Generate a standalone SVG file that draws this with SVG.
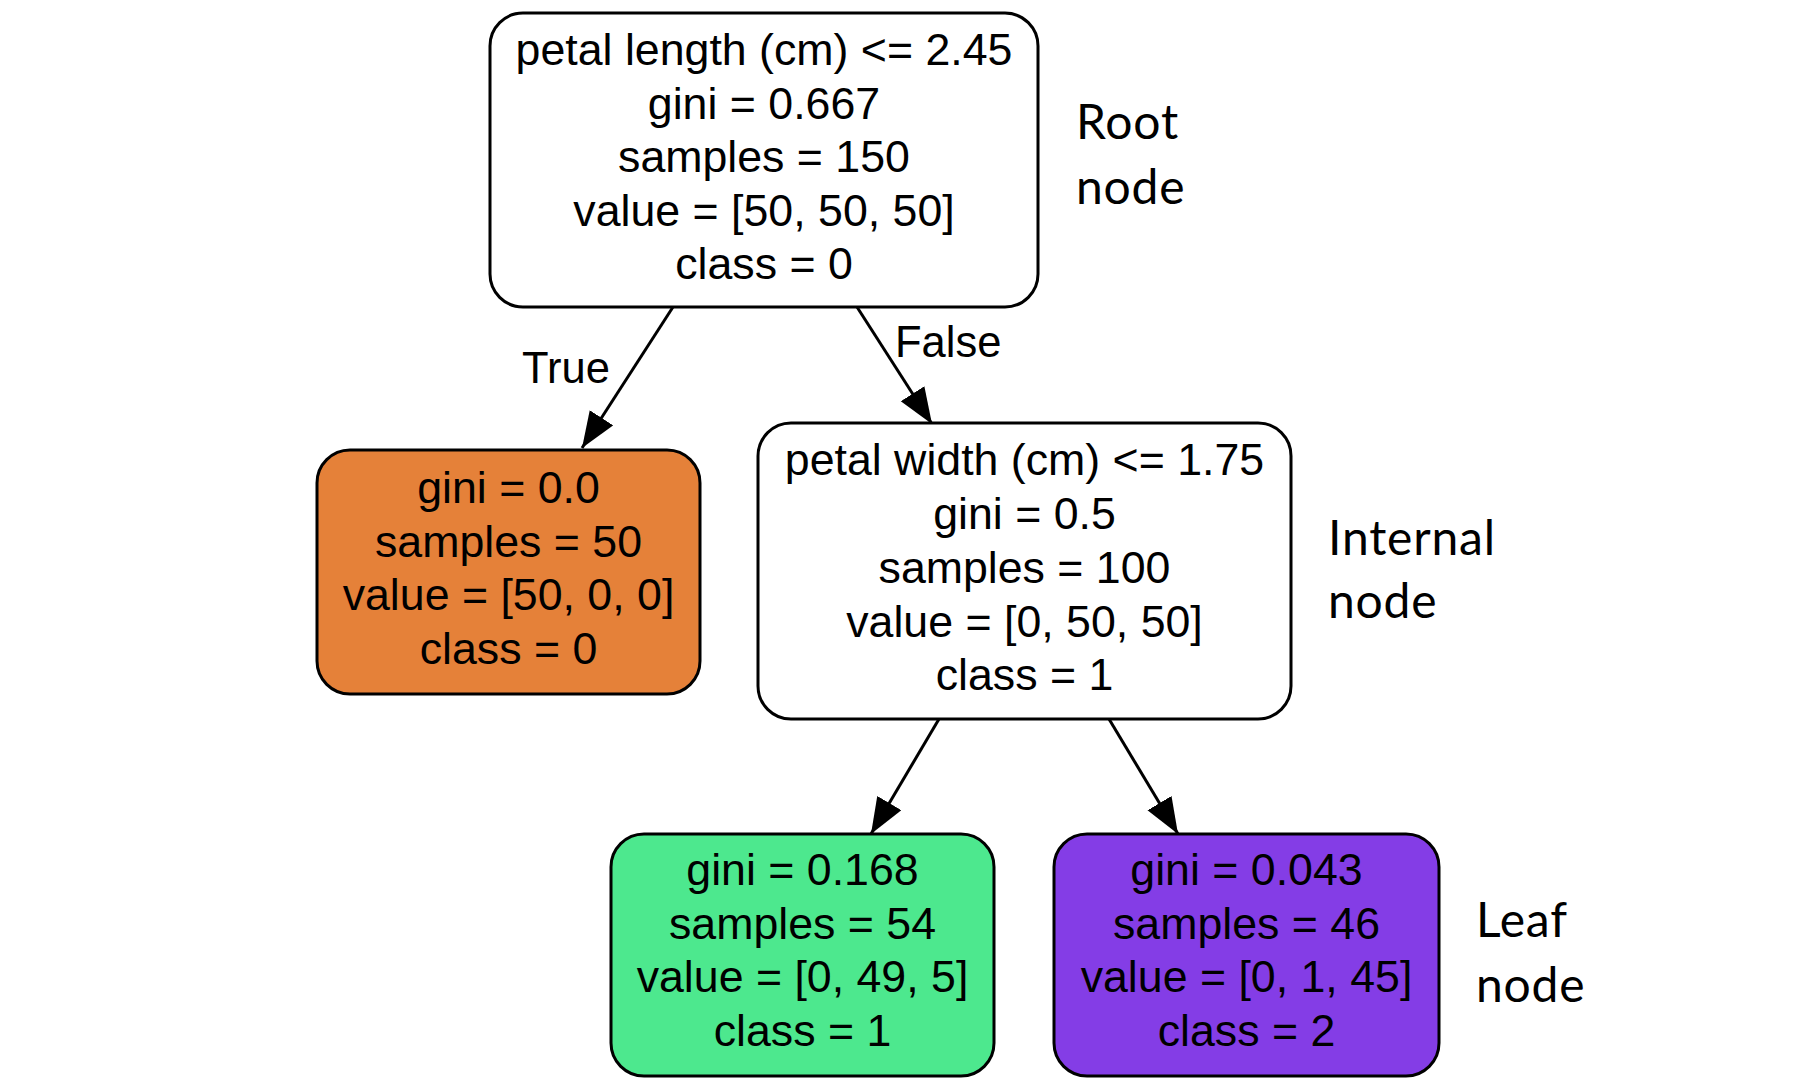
<svg xmlns="http://www.w3.org/2000/svg" width="1795" height="1085" viewBox="0 0 1795 1085">
<defs>
<style>
.box{stroke:#000;stroke-width:3}
.t{font-family:"Liberation Sans",Arial,sans-serif;font-size:44.7px;fill:#000;text-anchor:middle}
.el{font-family:"Liberation Sans",Arial,sans-serif;font-size:43.5px;fill:#000}
.ann{font-family:Lato,"Open Sans",sans-serif;font-size:48px;letter-spacing:0.8px;fill:#000}
.edge{stroke:#000;stroke-width:3;fill:none}
</style>
<marker id="arr" markerUnits="userSpaceOnUse" markerWidth="40" markerHeight="32" refX="36" refY="14" orient="auto">
<path d="M0,0 L36,14 L0,28 z" fill="#000"/>
</marker>
</defs>
<rect width="1795" height="1085" fill="#fff"/>
<g id="connectors">
<line class="edge" x1="673" y1="307" x2="582" y2="448" marker-end="url(#arr)"/>
<line class="edge" x1="857" y1="307" x2="932" y2="424" marker-end="url(#arr)"/>
<line class="edge" x1="939" y1="719" x2="871" y2="834" marker-end="url(#arr)"/>
<line class="edge" x1="1109" y1="719" x2="1178" y2="834" marker-end="url(#arr)"/>
<text class="el" x="522" y="383">True</text>
<text class="el" x="895" y="357">False</text>
</g>
<g id="root">
<rect class="box" x="490" y="13" width="548" height="294" rx="33" fill="#fff"/>
<text class="t" x="764" y="65">petal length (cm) &lt;= 2.45</text>
<text class="t" x="764" y="118.5">gini = 0.667</text>
<text class="t" x="764" y="172">samples = 150</text>
<text class="t" x="764" y="225.5">value = [50, 50, 50]</text>
<text class="t" x="764" y="279">class = 0</text>
</g>
<g id="leaf-orange">
<rect class="box" x="317" y="450" width="383" height="244" rx="33" fill="#e58139"/>
<text class="t" x="508.5" y="503">gini = 0.0</text>
<text class="t" x="508.5" y="556.5">samples = 50</text>
<text class="t" x="508.5" y="610">value = [50, 0, 0]</text>
<text class="t" x="508.5" y="663.5">class = 0</text>
</g>
<g id="internal">
<rect class="box" x="758" y="423" width="533" height="296" rx="33" fill="#fff"/>
<text class="t" x="1024.5" y="475">petal width (cm) &lt;= 1.75</text>
<text class="t" x="1024.5" y="528.5">gini = 0.5</text>
<text class="t" x="1024.5" y="582.5">samples = 100</text>
<text class="t" x="1024.5" y="636.5">value = [0, 50, 50]</text>
<text class="t" x="1024.5" y="690">class = 1</text>
</g>
<g id="leaf-green">
<rect class="box" x="611" y="834" width="383" height="242" rx="33" fill="#4de88e"/>
<text class="t" x="802.5" y="885">gini = 0.168</text>
<text class="t" x="802.5" y="938.5">samples = 54</text>
<text class="t" x="802.5" y="992">value = [0, 49, 5]</text>
<text class="t" x="802.5" y="1045.5">class = 1</text>
</g>
<g id="leaf-purple">
<rect class="box" x="1054" y="834" width="385" height="242" rx="33" fill="#843de6"/>
<text class="t" x="1246.5" y="885">gini = 0.043</text>
<text class="t" x="1246.5" y="938.5">samples = 46</text>
<text class="t" x="1246.5" y="992">value = [0, 1, 45]</text>
<text class="t" x="1246.5" y="1045.5">class = 2</text>
</g>
<g id="annotations">
<text class="ann" x="1076" y="139">Root</text>
<text class="ann" x="1076" y="204">node</text>
<text class="ann" x="1328" y="555">Internal</text>
<text class="ann" x="1328" y="618">node</text>
<text class="ann" x="1476" y="937">Leaf</text>
<text class="ann" x="1476" y="1002">node</text>
</g>
</svg>
